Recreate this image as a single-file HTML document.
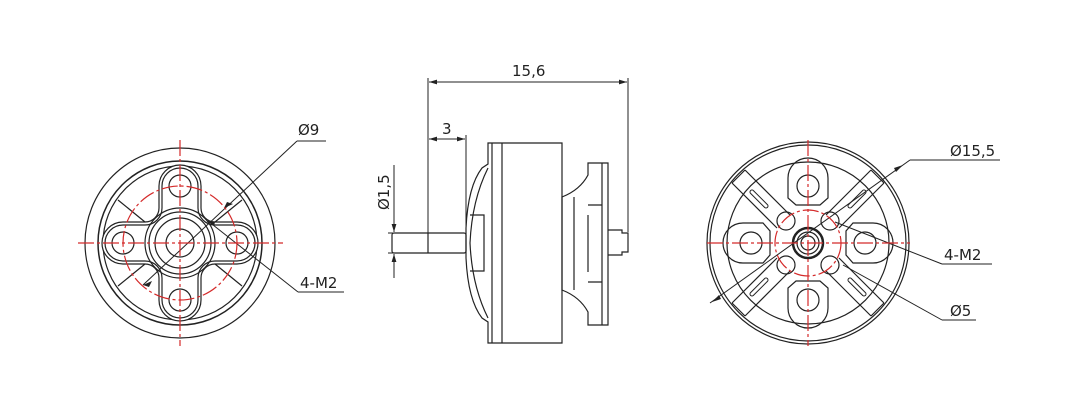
<!DOCTYPE html>
<html><head><style>html,body{margin:0;padding:0;background:#fff}svg{display:block}</style></head>
<body>
<svg width="1076" height="412" viewBox="0 0 1076 412" xmlns="http://www.w3.org/2000/svg" font-family="'DejaVu Sans','Liberation Sans',sans-serif">
<defs>
<marker id="a" viewBox="0 0 10 10" refX="10" refY="5" markerWidth="8" markerHeight="8" orient="auto-start-reverse"><path d="M0,2 L10,5 L0,8z" fill="#222"/></marker>
</defs>
<g fill="none" stroke="#222" stroke-width="1.2">
<!-- LEFT VIEW -->
<circle cx="180" cy="243" r="95"/>
<circle cx="180" cy="243" r="82" stroke-width="1.5"/>
<circle cx="180" cy="243" r="77"/>
<path d="M118,200 L145,222 M242,200 L215,222 M118,286 L145,264 M242,286 L215,264"/>
<path d="M159,186 A21,21 0 0 1 201,186 L201,208 A14,14 0 0 0 215,222 L237,222 A21,21 0 0 1 237,264 L215,264 A14,14 0 0 0 201,278 L201,300 A21,21 0 0 1 159,300 L159,278 A14,14 0 0 0 145,264 L123,264 A21,21 0 0 1 123,222 L145,222 A14,14 0 0 0 159,208 Z" fill="#fff"/>
<path d="M162,186 A18,18 0 0 1 198,186 L198,208 A17,17 0 0 0 215,225 L237,225 A18,18 0 0 1 237,261 L215,261 A17,17 0 0 0 198,278 L198,300 A18,18 0 0 1 162,300 L162,278 A17,17 0 0 0 145,261 L123,261 A18,18 0 0 1 123,225 L145,225 A17,17 0 0 0 162,208 Z"/>
<circle cx="180" cy="186" r="11"/><circle cx="180" cy="300" r="11"/><circle cx="123" cy="243" r="11"/><circle cx="237" cy="243" r="11"/>
<circle cx="180" cy="243" r="35"/><circle cx="180" cy="243" r="31"/><circle cx="180" cy="243" r="25"/><circle cx="180" cy="243" r="14"/>
<!-- MIDDLE VIEW -->
<path d="M488,143 L562,143 L562,343 L488,343 L488,322 L482,318 Q468,300 466,258 L466,228 Q468,186 482,168 L488,164z"/>
<line x1="502" y1="143" x2="502" y2="343"/>
<line x1="492" y1="143" x2="492" y2="343"/>
<path d="M488,168 Q472,200 470,243 Q472,286 488,318"/>
<path d="M470,215 L484,215 L484,271 L470,271"/>
<rect x="392" y="233" width="74" height="20" rx="2"/>
<line x1="428" y1="233" x2="428" y2="253"/>
<path d="M562,197 Q580,190 588,175 L588,163 L608,163 L608,325 L588,325 L588,312 Q580,297 562,290z"/>
<line x1="602" y1="163" x2="602" y2="325"/>
<path d="M574,197 L574,290 M588,205 L602,205 M588,282 L602,282 M588,215 L588,272"/>
<path d="M608,230 L622,230 L622,233 L628,233 L628,252 L622,252 L622,255 L608,255"/>
<g stroke-width="1">
<line x1="428" y1="78" x2="428" y2="233"/>
<line x1="628" y1="78" x2="628" y2="232"/>
<line x1="429" y1="82" x2="627" y2="82" marker-start="url(#a)" marker-end="url(#a)"/>
<line x1="466" y1="135" x2="466" y2="228"/>
<line x1="429" y1="139" x2="465" y2="139" marker-start="url(#a)" marker-end="url(#a)"/>
<line x1="394" y1="165" x2="394" y2="232" marker-end="url(#a)"/>
<line x1="394" y1="278" x2="394" y2="254" marker-end="url(#a)"/>
<line x1="388" y1="233" x2="400" y2="233"/><line x1="388" y1="253" x2="400" y2="253"/>
</g>
<!-- RIGHT VIEW -->
<circle cx="808" cy="243" r="101"/>
<circle cx="808" cy="243" r="98"/>
<circle cx="808" cy="243" r="81"/>
<g>
<path d="M745,170 L790,215 M732,183 L777,228 M871,170 L826,215 M884,183 L839,228 M745,316 L790,271 M732,303 L777,258 M871,316 L826,271 M884,303 L839,258"/>
<path d="M745,170 L732,183 M871,170 L884,183 M745,316 L732,303 M871,316 L884,303"/>
<line x1="752" y1="192" x2="766" y2="206" stroke-width="5" stroke-linecap="round"/>
<line x1="752" y1="192" x2="766" y2="206" stroke="#fff" stroke-width="3" stroke-linecap="round"/>
<line x1="864" y1="192" x2="850" y2="206" stroke-width="5" stroke-linecap="round"/>
<line x1="864" y1="192" x2="850" y2="206" stroke="#fff" stroke-width="3" stroke-linecap="round"/>
<line x1="752" y1="294" x2="766" y2="280" stroke-width="5" stroke-linecap="round"/>
<line x1="752" y1="294" x2="766" y2="280" stroke="#fff" stroke-width="3" stroke-linecap="round"/>
<line x1="864" y1="294" x2="850" y2="280" stroke-width="5" stroke-linecap="round"/>
<line x1="864" y1="294" x2="850" y2="280" stroke="#fff" stroke-width="3" stroke-linecap="round"/>
<path d="M788,198 L788,178 a20,20 0 0 1 40,0 L828,198 L820,205 L796,205z"/>
<path d="M788,288 L788,308 a20,20 0 0 0 40,0 L828,288 L820,281 L796,281z"/>
<path d="M763,223 L743,223 a20,20 0 0 0 0,40 L763,263 L770,255 L770,231z"/>
<path d="M853,223 L873,223 a20,20 0 0 1 0,40 L853,263 L846,255 L846,231z"/>
<circle cx="808" cy="186" r="11"/><circle cx="808" cy="300" r="11"/><circle cx="751" cy="243" r="11"/><circle cx="865" cy="243" r="11"/>
<circle cx="786" cy="221" r="9"/><circle cx="830" cy="221" r="9"/><circle cx="786" cy="265" r="9"/><circle cx="830" cy="265" r="9"/>
<circle cx="808" cy="243" r="15" stroke-width="2.5"/><circle cx="808" cy="243" r="11"/><circle cx="808" cy="243" r="7"/>
</g>
<g stroke-width="1">
<line x1="143" y1="285" x2="297" y2="141"/><line x1="297" y1="141" x2="326" y2="141"/>
<line x1="208" y1="221" x2="298" y2="292"/><line x1="298" y1="292" x2="344" y2="292"/>
<line x1="710" y1="303" x2="910" y2="160"/><line x1="910" y1="160" x2="1000" y2="160"/>
<line x1="835" y1="222" x2="942" y2="264"/><line x1="942" y1="264" x2="992" y2="264"/>
<line x1="843" y1="265" x2="942" y2="320"/><line x1="942" y1="320" x2="976" y2="320"/>
</g>
</g>
<g fill="#222">
<path d="M143,285 l9,-4 l-3,6z"/><path d="M233,204 l-9,4 l3,-6z"/>
<path d="M214,226 l-7,-6 l8,2z"/>
<path d="M712,302 l7,-7 l2,4z"/><path d="M903,165 l-7,7 l-2,-4z"/>
</g>
<g fill="none" stroke="#d42a2a" stroke-width="1.2" stroke-dasharray="16,3,3,3">
<line x1="78" y1="243" x2="283" y2="243"/><line x1="180" y1="140" x2="180" y2="346"/>
<circle cx="180" cy="243" r="57"/>
<line x1="707" y1="243" x2="910" y2="243"/><line x1="808" y1="140" x2="808" y2="346"/>
<circle cx="808" cy="243" r="33"/>
</g>
<g font-size="15" fill="#222">
<text x="298" y="135">Ø9</text>
<text x="300" y="288">4-M2</text>
<text x="512" y="76">15,6</text>
<text x="442" y="134">3</text>
<text transform="translate(389,210) rotate(-90)">Ø1,5</text>
<text x="950" y="156">Ø15,5</text>
<text x="944" y="260">4-M2</text>
<text x="950" y="316">Ø5</text>
</g>
</svg>
</body></html>
